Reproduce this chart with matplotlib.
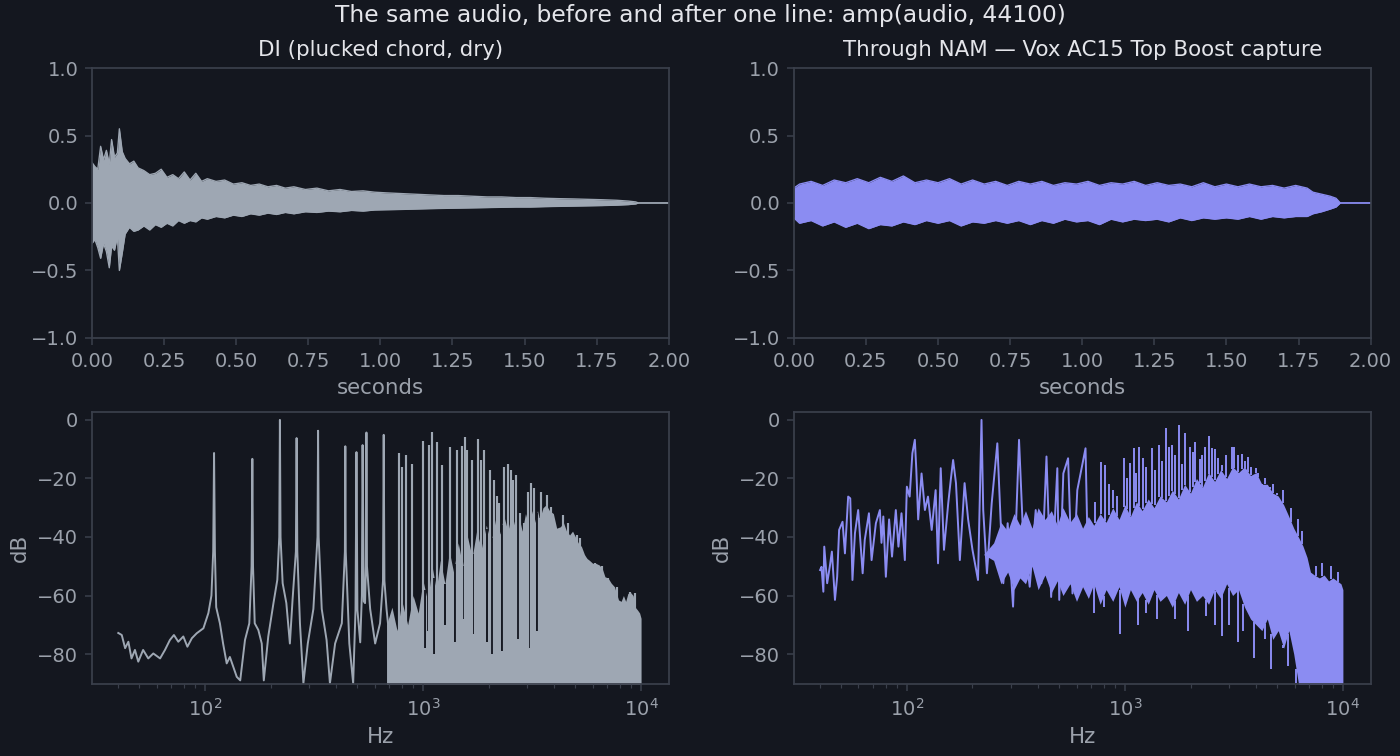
import numpy as np
import matplotlib
matplotlib.use("Agg")
import matplotlib.pyplot as plt

# ---- waveform envelopes (seconds, amplitude) ----
di_t = [0.000, 0.010, 0.020, 0.030, 0.040, 0.050, 0.060, 0.068, 0.078, 0.088,
        0.095, 0.105, 0.115, 0.130, 0.145, 0.160, 0.180, 0.200, 0.220, 0.240,
        0.260, 0.280, 0.300, 0.320, 0.340, 0.360, 0.380, 0.400, 0.430, 0.460,
        0.490, 0.520, 0.550, 0.580, 0.610, 0.640, 0.670, 0.700, 0.740, 0.780,
        0.820, 0.860, 0.900, 0.940, 0.980, 1.020, 1.070, 1.120, 1.170, 1.220,
        1.270, 1.320, 1.370, 1.420, 1.470, 1.520, 1.570, 1.620, 1.670, 1.720,
        1.770, 1.820, 1.860, 1.885, 1.895, 2.000]
di_hi = [0.30, 0.27, 0.25, 0.42, 0.32, 0.39, 0.29, 0.47, 0.34, 0.37,
         0.55, 0.38, 0.33, 0.29, 0.31, 0.26, 0.24, 0.21, 0.22, 0.25,
         0.19, 0.21, 0.18, 0.23, 0.17, 0.22, 0.16, 0.18, 0.16, 0.17,
         0.14, 0.15, 0.13, 0.14, 0.12, 0.13, 0.11, 0.12, 0.10, 0.11,
         0.09, 0.10, 0.085, 0.09, 0.08, 0.075, 0.07, 0.065, 0.06, 0.055,
         0.055, 0.05, 0.045, 0.045, 0.04, 0.04, 0.035, 0.032, 0.03, 0.027,
         0.024, 0.02, 0.014, 0.008, 0.0, 0.0]
di_lo = [-0.30, -0.27, -0.33, -0.41, -0.30, -0.36, -0.48, -0.32, -0.35, -0.25,
         -0.50, -0.37, -0.23, -0.18, -0.21, -0.20, -0.17, -0.20, -0.16, -0.18,
         -0.15, -0.17, -0.13, -0.15, -0.13, -0.14, -0.11, -0.12, -0.10, -0.11,
         -0.09, -0.10, -0.08, -0.09, -0.075, -0.085, -0.07, -0.08, -0.065, -0.07,
         -0.06, -0.065, -0.055, -0.06, -0.052, -0.05, -0.048, -0.045, -0.042, -0.04,
         -0.038, -0.036, -0.034, -0.032, -0.03, -0.03, -0.027, -0.025, -0.023, -0.021,
         -0.019, -0.016, -0.012, -0.007, 0.0, 0.0]

nam_t = [0.00, 0.02, 0.06, 0.10, 0.14, 0.18, 0.22, 0.26, 0.30, 0.34,
         0.38, 0.42, 0.46, 0.50, 0.54, 0.58, 0.62, 0.66, 0.70, 0.74,
         0.78, 0.82, 0.86, 0.90, 0.94, 0.98, 1.02, 1.06, 1.10, 1.14,
         1.18, 1.22, 1.26, 1.30, 1.34, 1.38, 1.42, 1.46, 1.50, 1.54,
         1.58, 1.62, 1.66, 1.70, 1.74, 1.78, 1.80, 1.83, 1.86, 1.88,
         1.895, 2.00]
nam_hi = [0.11, 0.14, 0.16, 0.13, 0.17, 0.15, 0.18, 0.15, 0.19, 0.16,
          0.20, 0.15, 0.17, 0.15, 0.18, 0.14, 0.17, 0.14, 0.16, 0.13,
          0.16, 0.14, 0.16, 0.13, 0.15, 0.14, 0.16, 0.13, 0.15, 0.14,
          0.16, 0.13, 0.15, 0.13, 0.14, 0.12, 0.15, 0.12, 0.14, 0.12,
          0.14, 0.12, 0.13, 0.11, 0.13, 0.11, 0.08, 0.065, 0.05, 0.035,
          0.0, 0.0]
nam_lo = [-0.11, -0.15, -0.13, -0.17, -0.14, -0.18, -0.15, -0.19, -0.16, -0.17,
          -0.14, -0.16, -0.13, -0.15, -0.13, -0.17, -0.14, -0.15, -0.13, -0.15,
          -0.13, -0.16, -0.13, -0.15, -0.12, -0.14, -0.13, -0.16, -0.12, -0.14,
          -0.12, -0.13, -0.12, -0.14, -0.11, -0.13, -0.11, -0.12, -0.11, -0.12,
          -0.10, -0.12, -0.10, -0.11, -0.10, -0.10, -0.08, -0.065, -0.045, -0.03,
          0.0, 0.0]

# ---- DI spectrum (Hz, dB) ----
di_line_hz = [40, 41.5, 43, 44.5, 46, 47.7, 49.4, 52, 54.9, 57.9,
              62.2, 65.5, 69, 72, 75.4, 79.5, 83, 87, 91.6, 98.3,
              103.6, 107, 109, 110, 111, 112.5, 117, 121, 125.7, 130,
              139.8, 145, 152.5, 159.6, 163.5, 164.8, 166, 169, 175.6, 182,
              186, 195, 206, 214.5, 219, 220.5, 222, 227, 236, 245,
              252, 261, 263, 265, 272.5, 282.6, 296, 314, 328, 330,
              332, 343, 361, 374, 395, 424, 438, 440, 442, 459,
              478, 490, 495, 500, 515, 524, 528, 535, 542, 547,
              550, 553, 572, 603, 635, 655, 660, 665, 680, 700]
di_line_db = [-72.8, -73.5, -78, -75.8, -81.5, -78.6, -82.6, -78.6, -81.5, -79.8,
              -81.5, -78.6, -75.2, -73.5, -75.8, -74, -77.5, -74.6, -72.9, -71.2,
              -66, -60, -45, -11.3, -45, -64, -69.5, -76.4, -83.2, -81,
              -87.8, -89, -75.2, -69.5, -50, -13.3, -50, -69.5, -71.8, -76.4,
              -89, -74, -62.6, -54.7, -40, 0, -40, -55.8, -62.6, -76.4,
              -61.5, -45, -6.2, -45, -69.5, -90, -76.4, -64.6, -40, -3.7,
              -40, -64.6, -75.2, -90, -76.4, -69.5, -45, -9, -45, -76.4,
              -90, -65, -11, -65, -76, -60, -8.6, -62, -62.6, -50,
              -4.3, -50, -64.6, -76.4, -69.5, -55, -5.1, -55, -64.6, -74]
di_body_hz = [680, 720, 760, 800, 850, 900, 950, 1000, 1050, 1100,
              1150, 1200, 1260, 1320, 1380, 1450, 1520, 1600, 1680, 1760,
              1850, 1950, 2050, 2150, 2250, 2350, 2450, 2550, 2650, 2750,
              2850, 2950, 3050, 3150, 3250, 3350, 3420, 3550, 3670, 3800,
              3960, 4100, 4270, 4400, 4550, 4700, 4850, 5000, 5150, 5330,
              5500, 5640, 5800, 6000, 6200, 6440, 6650, 6830, 7050, 7300,
              7550, 7880, 8100, 8300, 8500, 8700, 8950, 9200, 9400, 9640,
              9850, 10000]
di_body_db = [-70, -64, -72, -62, -70, -60, -66, -55, -62, -50,
              -58, -48, -56, -45, -52, -42, -50, -40, -47, -38,
              -44, -36, -42, -34, -39, -33, -38, -32, -37, -33,
              -38, -32, -36, -31, -35, -31, -34, -30, -29, -31,
              -32, -37, -36.5, -35, -38, -39.3, -38, -40, -42, -43.3,
              -46, -47.3, -48, -49, -49, -49.6, -51, -53.6, -54, -55.8,
              -57, -61.5, -62, -60, -62, -59.3, -59, -60, -64, -65,
              -66, -67.8]
di_peak_hz = [775, 800, 834, 888, 995, 1065, 1102, 1160, 1221, 1330,
              1435, 1505, 1557, 1595, 1670, 1780, 1835, 1900, 2030, 2120,
              2190, 2240, 2350, 2455, 2525, 2590, 2680, 2780, 2900, 3020,
              3120, 3240, 3400, 3480, 3600, 3700, 3850, 4170, 4370, 4620,
              5080, 5250, 5580, 6140, 6650, 7030, 7780, 8930, 9360]
di_peak_db = [-11.2, -16, -12, -15, -7.2, -8.6, -4, -7.7, -15.4, -9.1,
              -10.3, -8.9, -5.7, -10.3, -13.7, -6.6, -13.7, -10.3, -17, -20.5,
              -26, -28.4, -16, -15, -17, -20.5, -18.8, -31.9, -35.3, -24.5,
              -21.6, -23.4, -33.6, -24.5, -35, -25.6, -29.6, -38.2, -32.5, -35.3,
              -39.3, -40.5, -47.3, -49, -50, -54.1, -57, -58.7, -59.3]
# deep notches between the partials
di_gap_hz = [1023, 1056, 1125, 1260, 1400, 1520, 1690, 1970, 2070, 2300, 2740, 3100, 3330]
di_gap_db = [-78, -72, -80, -70, -76, -68, -73, -76, -80, -79, -75, -78, -72]

# ---- NAM spectrum (Hz, dB) ----
nam_line_hz = [40, 40.6, 41.4, 41.8, 43.1, 44.3, 45.3, 46.8, 47.9, 48.9,
               50.7, 52, 53.8, 55, 56.3, 57.8, 59.8, 62.7, 64.1, 67,
               68.9, 72.1, 75.2, 76.5, 78, 80.1, 82.9, 85.5, 89, 91.5,
               94.5, 97.9, 100, 103, 106, 108.8, 110.5, 112.7, 116.8, 121,
               125, 130, 135.5, 139, 143, 148, 154.8, 159, 163, 168,
               175, 184, 191, 200, 212, 220, 224, 233, 245, 260,
               268, 277, 290, 307, 327, 340, 366, 390, 414, 437,
               459, 490, 500, 522, 549, 575, 605, 660, 680]
nam_line_db = [-51.3, -50.2, -58.7, -43.3, -55.8, -50.2, -45, -61.5, -53.6, -37.6,
               -34.8, -45.6, -26.2, -26.8, -54.7, -38.7, -30.8, -52.4, -41, -31.9,
               -47.9, -35.3, -30.8, -42, -33, -53.6, -34, -46.7, -30.8, -43.3,
               -31.9, -47.9, -22.8, -26.2, -11.4, -6.8, -17, -34, -18.3, -30.8,
               -26.2, -37.6, -24, -49, -16.5, -44.4, -28.5, -20.5, -13.7, -21.6,
               -47.9, -21.6, -34, -44.4, -54.7, 0, -30.8, -52.4, -28.5, -8,
               -31, -55.8, -35.3, -63.8, -6.8, -36.5, -57, -30.8, -55.8, -12.5,
               -60.5, -16.5, -61.5, -18.3, -13.1, -59.3, -24, -9.7, -55.8]
nam_band_hz = [225, 250, 270, 290, 310, 330, 350, 375, 400, 430, 460,
               490, 520, 560, 600, 640, 680, 720, 770, 820, 880,
               940, 1000, 1060, 1130, 1200, 1280, 1360, 1450, 1550, 1650,
               1760, 1880, 2000, 2130, 2270, 2420, 2580, 2750, 2930, 3120,
               3320, 3540, 3770, 4000, 4250, 4500, 4770, 5050, 5350, 5650,
               5950, 6250, 6550, 6850, 7100, 7400, 7800, 8200, 8600, 9000,
               9400, 9800, 10000]
nam_band_hi = [-46, -42, -35, -38, -32, -36, -31, -37, -30, -34, -31,
               -36, -30, -35, -32, -37, -33, -36, -32, -35, -30,
               -34, -29, -33, -28, -31, -27, -30, -26, -28, -24,
               -27, -22, -25, -20, -23, -18, -21, -17, -20, -16,
               -18, -16, -19, -18, -22, -22, -25, -26, -29, -33,
               -37, -40, -43, -47, -52, -53, -54, -53, -55, -54,
               -55, -56, -58]
nam_band_lo = [-46, -48, -56, -52, -58, -54, -56, -50, -58, -53, -59,
               -55, -60, -56, -62, -57, -61, -56, -63, -58, -62,
               -57, -64, -58, -62, -59, -63, -58, -62, -60, -64,
               -59, -63, -58, -62, -60, -63, -58, -61, -56, -60,
               -58, -64, -68, -70, -72, -68, -75, -72, -78, -72,
               -80, -90, -95, -95, -95, -95, -95, -95, -95, -95,
               -95, -95, -95]
nam_peak_hz = [730, 775, 814, 850, 880, 920, 990, 1020, 1055, 1100,
               1130, 1160, 1210, 1250, 1330, 1380, 1440, 1480, 1540, 1600,
               1640, 1700, 1770, 1830, 1890, 1980, 2050, 2100, 2200, 2270,
               2330, 2440, 2500, 2600, 2680, 2780, 2900, 3090, 3150, 3300,
               3460, 3560, 3670, 3800, 4000, 4100, 4250, 4400, 4650, 4800,
               5000, 5300, 5800, 6200, 6500, 7500, 8000, 8800, 9500]
nam_peak_db = [-28, -14.3, -15.4, -22, -24, -26, -13, -20, -14.8, -9.5,
               -18, -9.1, -13, -16, -9.7, -17, -8.4, -14, -2.8, -9.1,
               -8.6, -12, -1.7, -15, -4.3, -9.1, -11, -7.7, -13.4, -12,
               -9.1, -5.5, -9.7, -10, -13, -15.4, -12, -9.4, -9.1, -12,
               -11.7, -14, -12.5, -16, -16.5, -18, -22.8, -20, -23, -22,
               -25, -24, -30, -34, -38, -50, -49, -50, -52]
nam_dip_hz = [720, 800, 950, 1150, 1250, 1400, 1700, 1950, 2350, 2600,
              2800, 3000, 3300, 3500, 3900, 4400, 4700, 5300, 5600, 6100]
nam_dip_db = [-66, -64, -73, -70, -66, -68, -68, -72, -67, -70,
              -74, -70, -76, -72, -81.5, -75, -85, -78, -84, -90]

BG = "#14171f"
SPINE = "#3a3f4b"
TICK = "#9ba1ab"
TEXT = "#e4e5ea"
DI_C = "#9ea7b3"
NAM_C = "#8b8cf2"

plt.rcParams["font.family"] = ["DejaVu Sans"]

fig = plt.figure(figsize=(10, 5.4), dpi=140, facecolor=BG)
ax_w1 = fig.add_axes([0.0657, 0.553, 0.412, 0.357])
ax_w2 = fig.add_axes([0.567, 0.553, 0.412, 0.357])
ax_s1 = fig.add_axes([0.0657, 0.095, 0.412, 0.36])
ax_s2 = fig.add_axes([0.567, 0.095, 0.412, 0.36])

for ax in (ax_w1, ax_w2, ax_s1, ax_s2):
    ax.set_facecolor(BG)
    for s in ax.spines.values():
        s.set_color(SPINE)
        s.set_linewidth(0.9)
    ax.tick_params(colors=TICK, which="both", labelsize=10)
    ax.tick_params(which="major", color=SPINE)
    ax.tick_params(which="minor", color=SPINE)

# waveforms
ax_w1.fill_between(di_t, di_lo, di_hi, color=DI_C, lw=0)
ax_w1.plot(di_t, di_hi, color=DI_C, lw=0.7)
ax_w1.plot(di_t, di_lo, color=DI_C, lw=0.7)
ax_w2.fill_between(nam_t, nam_lo, nam_hi, color=NAM_C, lw=0)
ax_w2.plot(nam_t, nam_hi, color=NAM_C, lw=0.7)
ax_w2.plot(nam_t, nam_lo, color=NAM_C, lw=0.7)

for ax, title in ((ax_w1, "DI (plucked chord, dry)"),
                  (ax_w2, "Through NAM \u2014 Vox AC15 Top Boost capture")):
    ax.set_xlim(0, 2)
    ax.set_ylim(-1, 1)
    ax.set_xticks(np.arange(0, 2.01, 0.25))
    ax.set_yticks([-1.0, -0.5, 0.0, 0.5, 1.0])
    ax.set_xlabel("seconds", color=TICK, fontsize=11)
    ax.set_title(title, color=TEXT, fontsize=11)

# DI spectrum
ax_s1.fill_between(di_body_hz, -120, di_body_db, color=DI_C, lw=0)
ax_s1.vlines(di_gap_hz, di_gap_db, np.interp(di_gap_hz, di_body_hz, di_body_db),
             color=BG, lw=1.0)
ax_s1.vlines(di_peak_hz, -120, di_peak_db, color=DI_C, lw=1.1)
ax_s1.plot(di_line_hz, di_line_db, color=DI_C, lw=1.0)

# NAM spectrum
ax_s2.fill_between(nam_band_hz, nam_band_lo, nam_band_hi, color=NAM_C, lw=0)
ax_s2.vlines(nam_peak_hz, np.interp(nam_peak_hz, nam_band_hz, nam_band_hi),
             nam_peak_db, color=NAM_C, lw=1.0)
ax_s2.vlines(nam_dip_hz, nam_dip_db,
             np.interp(nam_dip_hz, nam_band_hz, nam_band_lo), color=NAM_C, lw=1.0)
ax_s2.plot(nam_line_hz, nam_line_db, color=NAM_C, lw=1.0)

for ax in (ax_s1, ax_s2):
    ax.set_xscale("log")
    ax.set_xlim(30.3, 13400)
    ax.set_ylim(-90.3, 2.7)
    ax.set_yticks([0, -20, -40, -60, -80])
    ax.set_xlabel("Hz", color=TICK, fontsize=11)
    ax.set_ylabel("dB", color=TICK, fontsize=11)

fig.suptitle("The same audio, before and after one line: amp(audio, 44100)",
             color=TEXT, fontsize=12, y=0.995)

fig.savefig("out.png", dpi=140, facecolor=BG)
